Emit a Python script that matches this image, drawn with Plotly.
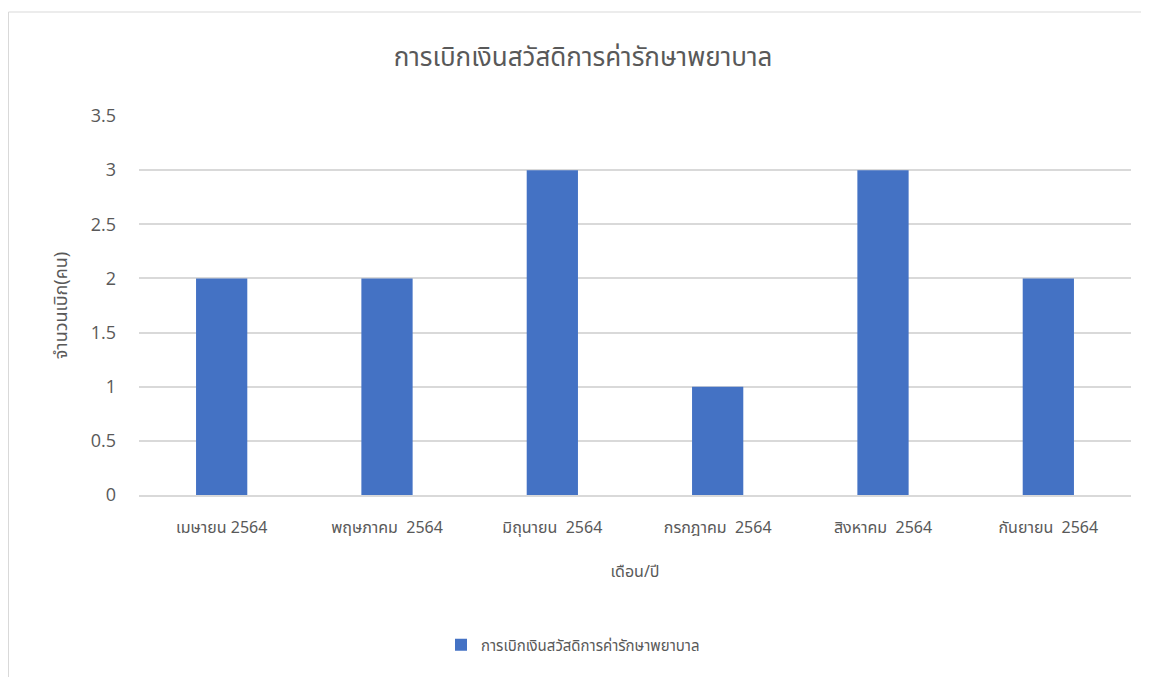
import plotly.graph_objects as go

title = "การเบิกเงินสวัสดิการค่ารักษาพยาบาล"
series_name = "การเบิกเงินสวัสดิการค่ารักษาพยาบาล"
months = ["เมษายน 2564", "พฤษภาคม  2564", "มิถุนายน  2564", "กรกฎาคม  2564", "สิงหาคม  2564", "กันยายน  2564"]
values = [2, 2, 3, 1, 3, 2]
y_ticks = [0, 0.5, 1, 1.5, 2, 2.5, 3, 3.5]
x_title = "เดือน/ปี"
y_title = "จำนวนเบิก(คน)"

FONT = "Noto Sans Thai, Noto Sans, Open Sans, sans-serif"
W, H = 1141, 669
L, R, T, B = 131, 18, 108, 182
pw, ph = W - L - R, H - T - B

fig = go.Figure()
fig.add_trace(go.Bar(
    x=months, y=values, name=series_name,
    marker=dict(color="#4472c4", line=dict(width=0)),
    width=0.31,
))

border = dict(color="#d9d9d9", width=1)
fig.update_layout(
    width=W, height=H,
    margin=dict(l=L, r=R, t=T, b=B),
    paper_bgcolor="white", plot_bgcolor="white",
    font=dict(family=FONT, color="#595959"),
    title=dict(text=title, x=(583 - 8) / W, xanchor="center", y=1 - 49 / H, yanchor="middle",
               font=dict(size=26, color="#595959", family=FONT)),
    showlegend=True,
    legend=dict(orientation="h", x=(565 - L) / pw, xanchor="center", y=-(637 - (H - B)) / ph, yanchor="middle",
                font=dict(size=15, color="#595959"), itemwidth=30),
    xaxis=dict(
        tickfont=dict(size=16, color="#595959"),
        title=dict(text=x_title, font=dict(size=16, color="#595959"), standoff=27),
        showgrid=False, showline=True, linecolor="#d9d9d9", linewidth=1.5,
        ticks="", ticklabelstandoff=17,
    ),
    yaxis=dict(
        range=[0, 3.5], tickvals=y_ticks, ticktext=[f"{v:g}" for v in y_ticks],
        tickfont=dict(size=18, color="#595959", family="Segoe UI, Open Sans, sans-serif"),
        title=dict(text=y_title, font=dict(size=18, color="#595959"), standoff=18),
        showgrid=True, gridcolor="#d9d9d9", gridwidth=1.5,
        zeroline=False, ticks="", ticklabelstandoff=22,
    ),
    shapes=[
        dict(type="line", xref="paper", yref="paper",
             x0=(0.5 - L) / pw, x1=(W - L) / pw, y0=(H - B - 4) / ph, y1=(H - B - 4) / ph, line=border),
        dict(type="line", xref="paper", yref="paper",
             x0=(0.5 - L) / pw, x1=(0.5 - L) / pw, y0=-B / ph, y1=(H - B - 4) / ph, line=border),
    ],
)

fig.write_html("out.html")
